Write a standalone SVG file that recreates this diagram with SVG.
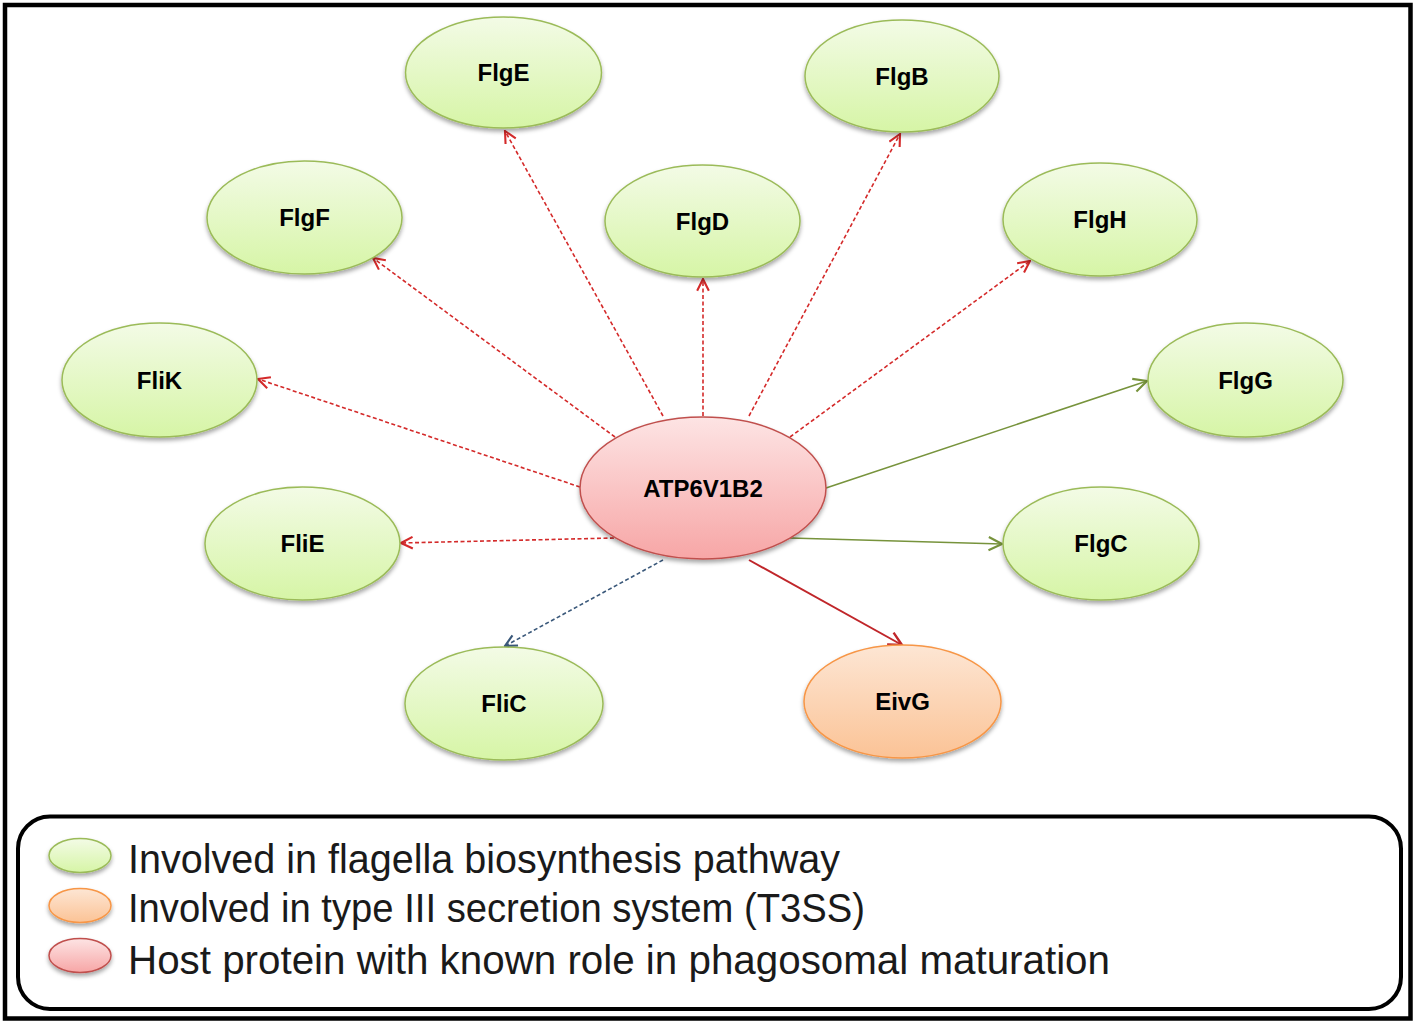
<svg xmlns="http://www.w3.org/2000/svg" width="1418" height="1026" viewBox="0 0 1418 1026">
<style>
.lbl{font-family:"Liberation Sans",Arial,sans-serif;font-weight:bold;font-size:24px;fill:#000;text-anchor:middle}
.leg{font-family:"Liberation Sans",Arial,sans-serif;font-size:40px;fill:#1a1a1a}
.gn{fill:url(#gGreen);stroke:#9bbb59;stroke-width:1.5;filter:url(#sh)}
.or{fill:url(#gOrange);stroke:#f79646;stroke-width:1.5;filter:url(#sh)}
.pk{fill:url(#gPink);stroke:#c0504d;stroke-width:1.5;filter:url(#sh)}
.dr{stroke:#d42a2a;stroke-width:1.6;stroke-dasharray:4 2.5;fill:none;marker-end:url(#aRed)}
.db{stroke:#3a587a;stroke-width:1.6;stroke-dasharray:4 2.5;fill:none;marker-end:url(#aBlue)}
.sg{stroke:#77933c;stroke-width:1.6;fill:none;marker-end:url(#aGreen)}
.sr{stroke:#c0262a;stroke-width:2;fill:none;marker-end:url(#aDRed)}
</style>
<defs>
<linearGradient id="gGreen" x1="0" y1="0" x2="0" y2="1"><stop offset="0" stop-color="#f3fbe6"/><stop offset="1" stop-color="#d6f5a6"/></linearGradient>
<linearGradient id="gOrange" x1="0" y1="0" x2="0" y2="1"><stop offset="0" stop-color="#fde6d4"/><stop offset="1" stop-color="#fbc396"/></linearGradient>
<linearGradient id="gPink" x1="0" y1="0" x2="0" y2="1"><stop offset="0" stop-color="#fde4e4"/><stop offset="1" stop-color="#f7a6a6"/></linearGradient>
<filter id="sh" x="-20%" y="-20%" width="140%" height="150%"><feDropShadow dx="0" dy="3" stdDeviation="2" flood-color="#000" flood-opacity="0.35"/></filter>
<marker id="aRed" viewBox="0 0 12 12" refX="11" refY="6" markerWidth="14" markerHeight="14" markerUnits="userSpaceOnUse" orient="auto"><path d="M1,1 L11,6 L1,11" fill="none" stroke="#d42a2a" stroke-width="1.8"/></marker>
<marker id="aBlue" viewBox="0 0 12 12" refX="11" refY="6" markerWidth="14" markerHeight="14" markerUnits="userSpaceOnUse" orient="auto"><path d="M1,1 L11,6 L1,11" fill="none" stroke="#3a587a" stroke-width="1.8"/></marker>
<marker id="aGreen" viewBox="0 0 12 12" refX="11" refY="6" markerWidth="16" markerHeight="16" markerUnits="userSpaceOnUse" orient="auto"><path d="M1,1 L11,6 L1,11" fill="none" stroke="#77933c" stroke-width="1.6"/></marker>
<marker id="aDRed" viewBox="0 0 12 12" refX="11" refY="6" markerWidth="16" markerHeight="16" markerUnits="userSpaceOnUse" orient="auto"><path d="M1,1 L11,6 L1,11" fill="none" stroke="#c0262a" stroke-width="1.8"/></marker>
</defs>
<rect x="0" y="0" width="1418" height="1026" fill="#fff"/>
<rect x="5" y="5" width="1405.5" height="1013.5" fill="none" stroke="#000" stroke-width="4.5"/>

<g id="connectors">
<line class="dr" x1="663" y1="416" x2="505" y2="131"/>
<line class="dr" x1="749" y1="416" x2="900" y2="134"/>
<line class="dr" x1="703" y1="416" x2="703" y2="279"/>
<line class="dr" x1="615" y1="437" x2="373" y2="258"/>
<line class="dr" x1="790" y1="437" x2="1030" y2="261"/>
<line class="dr" x1="580" y1="487" x2="258" y2="379"/>
<line class="dr" x1="614" y1="538" x2="401" y2="543"/>
<line class="db" x1="663" y1="560" x2="505" y2="646"/>
<line class="sr" x1="749" y1="560" x2="902" y2="645"/>
<line class="sg" x1="790" y1="538" x2="1002" y2="544"/>
<line class="sg" x1="826" y1="488" x2="1147" y2="381"/>
</g>

<g id="FlgE"><ellipse class="gn" cx="503.5" cy="72.5" rx="98" ry="55.5"/><text class="lbl" x="503.5" y="81">FlgE</text></g>
<g id="FlgB"><ellipse class="gn" cx="902" cy="76" rx="97" ry="56"/><text class="lbl" x="902" y="85">FlgB</text></g>
<g id="FlgF"><ellipse class="gn" cx="304.5" cy="217.5" rx="97.5" ry="56.5"/><text class="lbl" x="304.5" y="226">FlgF</text></g>
<g id="FlgD"><ellipse class="gn" cx="702.5" cy="221" rx="97.5" ry="56"/><text class="lbl" x="702.5" y="230">FlgD</text></g>
<g id="FlgH"><ellipse class="gn" cx="1100" cy="219.5" rx="97" ry="56.5"/><text class="lbl" x="1100" y="228">FlgH</text></g>
<g id="FliK"><ellipse class="gn" cx="159.5" cy="380" rx="97.5" ry="57"/><text class="lbl" x="159.5" y="388.5">FliK</text></g>
<g id="FlgG"><ellipse class="gn" cx="1245.5" cy="380" rx="97.5" ry="57"/><text class="lbl" x="1245.5" y="388.5">FlgG</text></g>
<g id="ATP6V1B2"><ellipse class="pk" cx="703" cy="488" rx="123" ry="71"/><text class="lbl" x="703" y="496.5">ATP6V1B2</text></g>
<g id="FliE"><ellipse class="gn" cx="302.5" cy="543.5" rx="97.5" ry="56.5"/><text class="lbl" x="302.5" y="552">FliE</text></g>
<g id="FlgC"><ellipse class="gn" cx="1101" cy="543.5" rx="98" ry="56.5"/><text class="lbl" x="1101" y="552">FlgC</text></g>
<g id="FliC"><ellipse class="gn" cx="504" cy="703.5" rx="99" ry="56.5"/><text class="lbl" x="504" y="712">FliC</text></g>
<g id="EivG"><ellipse class="or" cx="902.5" cy="701.5" rx="98.5" ry="56.5"/><text class="lbl" x="902.5" y="710">EivG</text></g>

<g id="legend">
<rect x="18" y="816.5" width="1383" height="192.5" rx="32" ry="32" fill="none" stroke="#000" stroke-width="4"/>
<ellipse class="gn" cx="80" cy="855.5" rx="31" ry="17"/>
<ellipse class="or" cx="80" cy="905.5" rx="31" ry="17"/>
<ellipse class="pk" cx="80" cy="955.5" rx="31" ry="17"/>
<text class="leg" x="128" y="873" textLength="712" lengthAdjust="spacingAndGlyphs">Involved in flagella biosynthesis pathway</text>
<text class="leg" x="128" y="922" textLength="737" lengthAdjust="spacingAndGlyphs">Involved in type III secretion system (T3SS)</text>
<text class="leg" x="128" y="974" textLength="982" lengthAdjust="spacingAndGlyphs">Host protein with known role in phagosomal maturation</text>
</g>
</svg>
